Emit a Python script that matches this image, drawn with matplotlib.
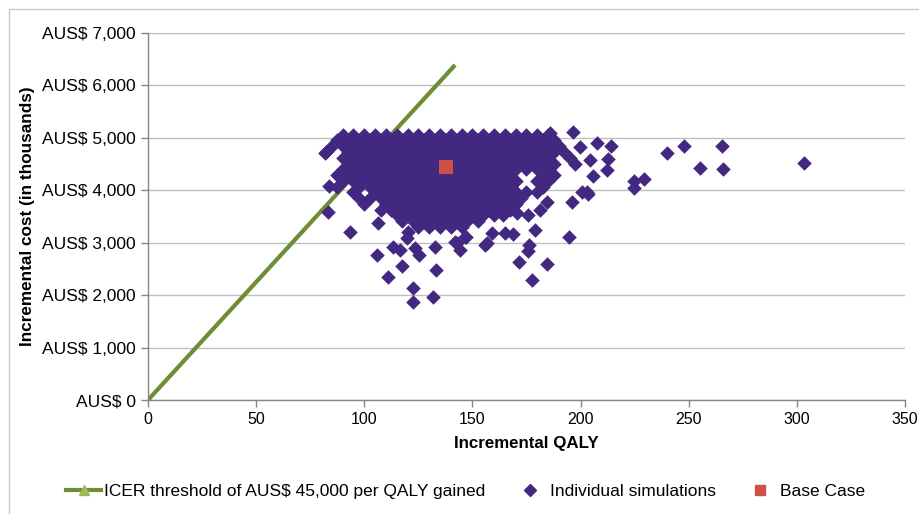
import matplotlib
matplotlib.use("Agg")
import matplotlib.pyplot as plt
from matplotlib.lines import Line2D
from matplotlib.patches import Rectangle
import numpy as np

plt.rcParams['font.family'] = ['Liberation Sans', 'DejaVu Sans']

# ICER threshold line (45 thousand AUS$ per QALY)
threshold_qaly = [0, 142]
threshold_cost = [0, 6390]

# Base case
base_qaly = [138]
base_cost = [4440]

# Dense core of simulations, read row by row (cost level -> QALY values)
core_cost_levels = [5060, 4950, 4840, 4730, 4620, 4510, 4400, 4290, 4180,
                    4070, 3960, 3850, 3740, 3630, 3520, 3410, 3300]
core_qaly_rows = [
    [90, 95, 100, 105, 110, 115, 120, 125, 130, 135, 140, 145, 150, 155, 160, 165, 170, 175, 180, 185],
    [87.5, 92.5, 97.5, 102.5, 107.5, 112.5, 117.5, 122.5, 127.5, 132.5, 137.5, 142.5, 147.5, 152.5, 157.5, 162.5, 167.5, 172.5, 177.5, 182.5, 187.5],
    [85, 90, 95, 100, 105, 110, 115, 120, 125, 130, 135, 140, 145, 150, 155, 160, 165, 170, 175, 180, 185, 190],
    [82.5, 92.5, 97.5, 102.5, 107.5, 112.5, 117.5, 122.5, 127.5, 132.5, 137.5, 142.5, 147.5, 152.5, 157.5, 162.5, 167.5, 172.5, 177.5, 182.5, 187.5, 192.5],
    [90, 95, 100, 105, 110, 115, 120, 125, 130, 135, 140, 145, 150, 155, 160, 165, 170, 175, 180, 185, 195],
    [92.5, 97.5, 102.5, 107.5, 112.5, 117.5, 122.5, 127.5, 132.5, 137.5, 142.5, 147.5, 152.5, 157.5, 162.5, 167.5, 172.5, 177.5, 182.5, 187.5, 197.5],
    [90, 95, 100, 105, 110, 115, 120, 125, 130, 135, 140, 145, 150, 155, 160, 165, 170, 175, 180, 185],
    [87.5, 92.5, 97.5, 102.5, 107.5, 112.5, 117.5, 122.5, 127.5, 132.5, 137.5, 142.5, 147.5, 152.5, 157.5, 162.5, 167.5, 182.5, 187.5],
    [90, 95, 100, 105, 110, 115, 120, 125, 130, 135, 140, 145, 150, 155, 160, 165, 170, 180, 185],
    [87.5, 97.5, 102.5, 107.5, 112.5, 117.5, 122.5, 127.5, 132.5, 137.5, 142.5, 147.5, 152.5, 157.5, 162.5, 167.5, 182.5],
    [95, 105, 110, 115, 120, 125, 130, 135, 140, 145, 150, 155, 160, 165, 170, 175, 180],
    [97.5, 102.5, 107.5, 112.5, 117.5, 122.5, 127.5, 132.5, 137.5, 142.5, 147.5, 152.5, 157.5, 162.5, 167.5, 172.5],
    [100, 110, 115, 120, 125, 130, 135, 140, 145, 150, 155, 160, 165, 170],
    [107.5, 112.5, 117.5, 122.5, 127.5, 132.5, 137.5, 142.5, 147.5, 152.5, 157.5, 162.5, 167.5],
    [115, 120, 125, 130, 135, 140, 145, 150, 155, 160],
    [117.5, 122.5, 127.5, 132.5, 137.5, 142.5, 147.5, 152.5],
    [125, 130, 135, 140, 145],
]

# Scattered simulations outside the core
outlier_qaly = [196.6, 81.8, 93.4, 83.4, 83.5, 105.7, 111.1, 117.3, 122.7, 122.7,
                131.9, 133.0, 113.4, 116.5, 123.4, 125.3, 132.7, 142.7, 144.2, 146.6,
                155.8, 158.9, 165.0, 168.6, 171.5, 177.4, 184.6, 176.3, 175.8, 178.9,
                194.6, 195.9, 184.3, 181.2, 175.8, 170.4, 164.3, 202.8, 200.5, 203.6,
                205.9, 212.0, 212.8, 204.3, 207.4, 213.9, 199.7, 185.8, 239.8, 247.8,
                265.6, 255.2, 265.9, 303.3, 224.7, 229.3, 224.7, 106.5, 120.3, 119.6,
                141.9, 147.0, 156.6]
outlier_cost = [5117, 4705, 3210, 3591, 4080, 2766, 2352, 2562, 2130, 1875,
                1970, 2480, 2925, 2861, 2893, 2766, 2925, 2990, 2861, 3115,
                2957, 3192, 3180, 3166, 2638, 2289, 2600, 2957, 2840, 3243,
                3110, 3783, 3783, 3624, 3530, 3560, 3530, 3973, 3973, 3929,
                4280, 4387, 4590, 4577, 4895, 4845, 4831, 5090, 4705, 4845,
                4845, 4419, 4400, 4527, 4185, 4207, 4037, 3382, 3210, 3083,
                3020, 3103, 2989]

x_ticks = [0, 50, 100, 150, 200, 250, 300, 350]
y_ticks = [0, 1000, 2000, 3000, 4000, 5000, 6000, 7000]
y_tick_labels = ["AUS$ 0", "AUS$ 1,000", "AUS$ 2,000", "AUS$ 3,000",
                 "AUS$ 4,000", "AUS$ 5,000", "AUS$ 6,000", "AUS$ 7,000"]

# build flat simulation arrays
sim_qaly = []
sim_cost = []
for c, row in zip(core_cost_levels, core_qaly_rows):
    sim_qaly += row
    sim_cost += [c] * len(row)
sim_qaly += outlier_qaly
sim_cost += outlier_cost

purple = '#432882'
green = '#6E8E34'
red = '#CF5049'

fig = plt.figure(figsize=(9.19, 5.14), dpi=100)
fig.patches.append(Rectangle((9 / 919, -0.2), 1.2, 1.2 - 9 / 514, transform=fig.transFigure,
                             fill=False, edgecolor='#C8C8C8', linewidth=1.0))
ax = fig.add_axes([148 / 919, 114 / 514, 757 / 919, 367 / 514])

ax.plot(threshold_qaly, threshold_cost, color=green, lw=3.0, zorder=2, solid_capstyle='butt')
ax.scatter(sim_qaly, sim_cost, marker='D', s=55, color=purple, linewidths=0, zorder=3)
ax.scatter(base_qaly, base_cost, marker='s', s=88, color=red, linewidths=0, zorder=4)

ax.set_xlim(0, 350)
ax.set_ylim(0, 7000)
ax.set_xticks(x_ticks)
ax.set_yticks(y_ticks)
ax.set_yticklabels(y_tick_labels)
ax.tick_params(axis='both', color='#868686', length=5, width=1, direction='out',
               labelcolor='black')
ax.tick_params(axis='x', labelsize=11.5, pad=4)
ax.tick_params(axis='y', labelsize=12.5, pad=4)
ax.yaxis.grid(True, color='#BEBEBE', lw=1)
ax.set_axisbelow(True)
for s in ['top', 'right']:
    ax.spines[s].set_visible(False)
for s in ['left', 'bottom']:
    ax.spines[s].set_color('#868686')
    ax.spines[s].set_linewidth(1)

ax.set_xlabel('Incremental QALY', fontsize=12.2, fontweight='bold', labelpad=6)
ax.set_ylabel('Incremental cost (in thousands)', fontsize=12.3, fontweight='bold', labelpad=5)

handles = [
    Line2D([0], [0], color=green, lw=3, marker='^', markersize=7,
           markerfacecolor='#9BBB59', markeredgecolor='#9BBB59'),
    Line2D([0], [0], color=purple, lw=0, marker='D', markersize=6),
    Line2D([0], [0], color=red, lw=0, marker='s', markersize=7),
]
labels = ['ICER threshold of AUS$ 45,000 per QALY gained', 'Individual simulations', 'Base Case']
fig.legend(handles, labels, loc='center', bbox_to_anchor=(0.507, 0.043), ncol=3, frameon=False,
           fontsize=12.5, handlelength=2.0, handletextpad=0.17, columnspacing=1.55)

fig.savefig('out.png', dpi=100)
